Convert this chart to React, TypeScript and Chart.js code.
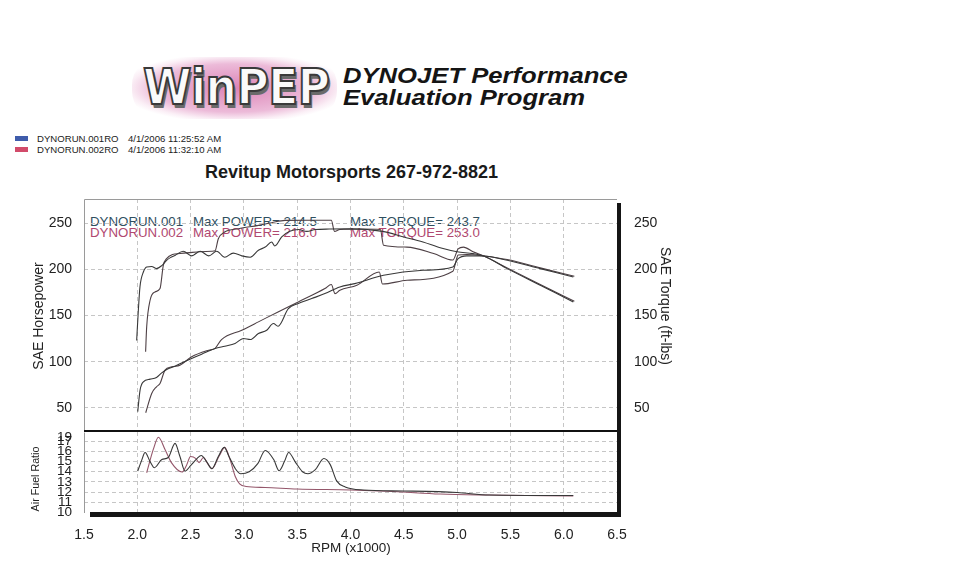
import React, { useEffect, useRef } from "react";
import { Chart, registerables } from "chart.js";

Chart.register(...registerables);

const FONT = "'Liberation Sans', Arial, Helvetica, sans-serif";

// ---------- axis ticks ----------
const rpmTicks = [1.5, 2.0, 2.5, 3.0, 3.5, 4.0, 4.5, 5.0, 5.5, 6.0, 6.5];
const powerTicks = [50, 100, 150, 200, 250];
const afrTicks = [10, 11, 12, 13, 14, 15, 16, 17];
// the scanned sheet prints a squeezed "19" just above "17"
const afrSqueezedTick = 17.37;
const afrSqueezedLabel = "19";

// ---------- DYNORUN.001 ----------
const run1TorqueRpm = [1.994, 2.01, 2.025, 2.057, 2.088, 2.135, 2.18, 2.23, 2.275, 2.31, 2.354, 2.43, 2.51, 2.59, 2.67, 2.745, 2.82, 2.9, 2.98, 3.06, 3.136, 3.2, 3.26, 3.29, 3.355, 3.43, 3.51, 3.59, 3.67, 3.8, 4.0, 4.3, 4.5, 4.68, 4.85, 5.0, 5.15, 5.25, 5.47, 5.78, 6.09];
const run1Torque = [123, 156, 181, 197, 202.5, 203, 200.7, 204, 209.7, 212.6, 215, 219.5, 214.5, 219.5, 214.5, 219.5, 213, 217.5, 214.5, 213, 220.5, 224, 229.5, 225.2, 235, 241, 243, 241, 243, 243.5, 243.7, 241, 235, 229.5, 223, 219, 216.9, 214.4, 200.7, 182.7, 164.7];
const run1PowerRpm = [2.004, 2.026, 2.057, 2.12, 2.18, 2.229, 2.276, 2.354, 2.43, 2.51, 2.604, 2.73, 2.82, 2.917, 2.995, 3.06, 3.136, 3.214, 3.277, 3.32, 3.417, 3.51, 3.636, 3.76, 3.9, 4.04, 4.31, 4.68, 4.96, 5.01, 5.09, 5.25, 5.47, 5.78, 6.09];
const run1Power = [46, 69.3, 78.3, 81.2, 83, 88, 91.6, 95.2, 99.5, 103.5, 108.2, 114.3, 116.8, 119.7, 125.1, 124, 130.5, 134.1, 141.3, 138.4, 157.5, 162.9, 168.3, 173.7, 180.9, 184.5, 193.5, 198.9, 202.5, 211.5, 214.5, 214.4, 209.7, 200.7, 191.7];
const run1AfrRpm = [2.004, 2.04, 2.073, 2.12, 2.16, 2.23, 2.29, 2.354, 2.4, 2.448, 2.5, 2.56, 2.6, 2.65, 2.7, 2.76, 2.815, 2.86, 2.92, 2.97, 3.05, 3.13, 3.2, 3.28, 3.33, 3.38, 3.42, 3.48, 3.55, 3.6, 3.67, 3.75, 3.81, 3.87, 3.95, 4.12, 4.5, 5.0, 5.3, 6.09];
const run1Afr = [14.06, 15.1, 15.9, 15.0, 14.4, 15.2, 15.4, 16.8, 15.5, 14.07, 14.6, 15.3, 15.6, 15.0, 14.3, 15.5, 16.4, 15.5, 14.3, 13.8, 14.0, 14.8, 16.1, 15.2, 14.1, 15.0, 15.9, 15.0, 14.0, 13.8, 14.2, 15.3, 14.7, 13.1, 12.5, 12.2, 12.1, 11.95, 11.7, 11.65];

// ---------- DYNORUN.002 ----------
const run2TorqueRpm = [2.078, 2.088, 2.12, 2.166, 2.213, 2.244, 2.275, 2.33, 2.4, 2.49, 2.59, 2.7, 2.73, 2.76, 2.82, 2.95, 3.136, 3.26, 3.386, 3.6, 3.82, 3.85, 3.9, 4.1, 4.28, 4.31, 4.53, 4.78, 4.96, 5.01, 5.06, 5.15, 5.25, 5.47, 5.78, 6.1];
const run2Torque = [110.7, 137.7, 166.5, 175.5, 179.1, 204.3, 211.5, 216, 217, 218, 219, 219.5, 220, 233, 240.3, 243.9, 247.5, 250.4, 252.9, 253, 253, 241, 243, 243.5, 243, 226, 224, 217, 210, 222, 224, 219, 214.4, 201.5, 183.5, 165.5];
const run2PowerRpm = [2.079, 2.135, 2.18, 2.213, 2.26, 2.323, 2.4, 2.51, 2.67, 2.73, 2.79, 2.98, 3.136, 3.32, 3.51, 3.76, 3.82, 3.855, 3.9, 4.06, 4.27, 4.3, 4.53, 4.96, 5.01, 5.09, 5.25, 5.47, 5.78, 6.1];
const run2Power = [44.8, 65.7, 72.9, 76.5, 90.9, 94.5, 96.3, 105.3, 112.5, 114.5, 124, 134.1, 143.1, 153.9, 164.7, 179.1, 183.5, 173.7, 177.3, 182.7, 197, 184, 188.1, 197.8, 215.5, 216, 214.4, 210.5, 201.5, 192.5];
const run2AfrRpm = [2.088, 2.15, 2.198, 2.26, 2.32, 2.42, 2.46, 2.5, 2.55, 2.58, 2.62, 2.66, 2.7, 2.77, 2.82, 2.87, 2.92, 2.96, 3.02, 3.2, 3.5, 4.0, 4.4, 4.84, 5.3, 6.09];
const run2Afr = [13.9, 16.2, 17.4, 16.2, 14.9, 13.97, 14.6, 15.5, 15.3, 14.9, 15.4, 14.8, 14.3, 15.6, 16.4, 15.2, 13.5, 12.8, 12.55, 12.45, 12.3, 12.2, 12.05, 11.8, 11.7, 11.6];

const zip = (xs: number[], ys: number[]) => xs.map((x, i) => ({ x, y: ys[i] }));

const RUN1_COLOR = "#383838";
const RUN2_COLOR = "#4e4045";
const RUN2_AFR_COLOR = "#94566a";
const GRID = "#c6c6c6";

const lineDs = (label: string, data: any[], color: string, yAxisID: string) => ({
  label,
  data,
  yAxisID,
  borderColor: color,
  borderWidth: 1.1,
  pointRadius: 0,
  tension: 0.35,
  cubicInterpolationMode: "monotone" as const,
  fill: false,
});

const framePlugin = {
  id: "frame",
  afterDraw(chart: any, _args: any, opts: any) {
    const { ctx, chartArea: a } = chart;
    ctx.save();
    ctx.strokeStyle = "#9a9a9a";
    ctx.lineWidth = 1;
    ctx.beginPath();
    ctx.moveTo(a.left + 0.5, a.bottom);
    ctx.lineTo(a.left + 0.5, a.top + 0.5);
    if (opts.kind === "top") ctx.lineTo(a.right, a.top + 0.5);
    ctx.stroke();
    ctx.strokeStyle = "#111";
    ctx.fillStyle = "#151515";
    if (opts.kind === "top") {
      ctx.lineWidth = 2;
      ctx.beginPath();
      ctx.moveTo(a.left, a.bottom - 1);
      ctx.lineTo(a.right + 4, a.bottom - 1);
      ctx.stroke();
      ctx.fillRect(a.right, a.top + 4, 4, a.bottom - a.top - 4);
    } else {
      ctx.fillRect(a.right, a.top, 4, a.bottom - a.top + 4);
      ctx.fillRect(a.left + 6, a.bottom - 1, a.right + 4 - a.left - 6, 5);
    }
    ctx.restore();
  },
};

const tickFont = { family: FONT, size: 14 };

function PowerChart() {
  const ref = useRef<HTMLCanvasElement>(null);
  useEffect(() => {
    const chart = new Chart(ref.current!, {
      type: "line",
      data: {
        datasets: [
          lineDs("001 torque", zip(run1TorqueRpm, run1Torque), RUN1_COLOR, "yT"),
          lineDs("002 torque", zip(run2TorqueRpm, run2Torque), RUN2_COLOR, "yT"),
          lineDs("001 power", zip(run1PowerRpm, run1Power), RUN1_COLOR, "y"),
          lineDs("002 power", zip(run2PowerRpm, run2Power), RUN2_COLOR, "y"),
        ],
      },
      options: {
        animation: false,
        responsive: false,
        events: [],
        layout: { padding: { top: 9, bottom: 8, left: 0, right: 0 } },
        plugins: { legend: { display: false }, tooltip: { enabled: false }, frame: { kind: "top" } } as any,
        scales: {
          x: {
            type: "linear",
            min: 1.5,
            max: 6.5,
            afterBuildTicks: (s: any) => { s.ticks = rpmTicks.map((v) => ({ value: v })); },
            afterFit: (s: any) => { s.height = 0; s.paddingLeft = 0; s.paddingRight = 0; },
            ticks: { display: false },
            grid: { color: (c: any) => (c.tick && (c.tick.value === 1.5 || c.tick.value === 6.5) ? "rgba(0,0,0,0)" : GRID), drawTicks: false },
            border: { display: false, dash: [4, 3] },
          },
          y: {
            type: "linear",
            position: "left",
            min: 24,
            max: 276,
            afterBuildTicks: (s: any) => { s.ticks = powerTicks.map((v) => ({ value: v })); },
            afterFit: (s: any) => { s.width = 84; s.paddingTop = 0; s.paddingBottom = 0; },
            ticks: { font: tickFont, color: "#222", padding: 12 },
            grid: { color: GRID, drawTicks: false },
            border: { display: false, dash: [4, 3] },
          },
          yT: {
            type: "linear",
            position: "right",
            min: 24,
            max: 276,
            afterBuildTicks: (s: any) => { s.ticks = powerTicks.map((v) => ({ value: v })); },
            afterFit: (s: any) => { s.width = 83; s.paddingTop = 0; s.paddingBottom = 0; },
            ticks: { font: tickFont, color: "#222", padding: 17 },
            grid: { display: false, drawTicks: false },
            border: { display: false },
          },
        },
      },
      plugins: [framePlugin],
    } as any);
    return () => chart.destroy();
  }, []);
  return <canvas ref={ref} width={700} height={250} style={{ position: "absolute", left: 0, top: 190 }} />;
}

function AfrChart() {
  const ref = useRef<HTMLCanvasElement>(null);
  useEffect(() => {
    const chart = new Chart(ref.current!, {
      type: "line",
      data: {
        datasets: [
          lineDs("001 AFR", zip(run1AfrRpm, run1Afr), RUN1_COLOR, "y"),
          lineDs("002 AFR", zip(run2AfrRpm, run2Afr), RUN2_AFR_COLOR, "y"),
        ],
      },
      options: {
        animation: false,
        responsive: false,
        events: [],
        layout: { padding: { top: 8, bottom: 0, left: 0, right: 83 } },
        plugins: { legend: { display: false }, tooltip: { enabled: false }, frame: { kind: "bottom" } } as any,
        scales: {
          x: {
            type: "linear",
            min: 1.5,
            max: 6.5,
            afterBuildTicks: (s: any) => { s.ticks = rpmTicks.map((v) => ({ value: v })); },
            afterFit: (s: any) => { s.height = 47; s.paddingLeft = 0; s.paddingRight = 0; },
            ticks: { font: tickFont, color: "#222", padding: 14, maxRotation: 0, autoSkip: false, callback: (v: any) => Number(v).toFixed(1) },
            grid: { color: (c: any) => (c.tick && (c.tick.value === 1.5 || c.tick.value === 6.5) ? "rgba(0,0,0,0)" : GRID), drawTicks: false },
            border: { display: false, dash: [4, 3] },
          },
          y: {
            type: "linear",
            position: "left",
            min: 9.93,
            max: 17.92,
            afterBuildTicks: (s: any) => { s.ticks = [...afrTicks, afrSqueezedTick].map((v) => ({ value: v })); },
            afterFit: (s: any) => { s.width = 84; s.paddingTop = 0; s.paddingBottom = 0; },
            ticks: {
              font: { family: FONT, size: 13.5 },
              color: "#222",
              padding: 12,
              autoSkip: false,
              callback: (v: any) => (v === afrSqueezedTick ? afrSqueezedLabel : String(v)),
            },
            grid: { color: (c: any) => (c.tick && (c.tick.value === 10 || c.tick.value === afrSqueezedTick) ? "rgba(0,0,0,0)" : GRID), drawTicks: false },
            border: { display: false, dash: [4, 3] },
          },
        },
      },
      plugins: [framePlugin],
    } as any);
    return () => chart.destroy();
  }, []);
  return <canvas ref={ref} width={700} height={136} style={{ position: "absolute", left: 0, top: 424 }} />;
}

const abs = (s: React.CSSProperties): React.CSSProperties => ({ position: "absolute", whiteSpace: "nowrap", lineHeight: 1, fontFamily: FONT, ...s });

export default function App() {
  return (
    <div style={{ position: "absolute", left: 0, top: 0, width: 960, height: 583, background: "#fff", overflow: "hidden", fontFamily: FONT }}>
      {/* WinPEP logo */}
      <div style={abs({ left: 132, top: 57, width: 205, height: 62, borderRadius: 28, background: "radial-gradient(ellipse at center, rgba(214,110,170,0.85) 0%, rgba(226,150,196,0.65) 55%, rgba(240,200,224,0.3) 72%, rgba(255,255,255,0) 80%)" })} />
      <div style={abs({ left: 143, top: 63, fontFamily: "'DejaVu Sans', sans-serif", fontWeight: 900, fontSize: 44, color: "#fafafa", WebkitTextStroke: "1.8px #3a3a3a", textShadow: "2px 3px 0 #6a6a6a", letterSpacing: -0.5, transform: "scaleY(1.12)", transformOrigin: "left top" })}>WinPEP</div>
      <div style={abs({ left: 343, top: 65, fontSize: 22, fontWeight: 700, fontStyle: "italic", color: "#151515", transform: "scaleX(1.165)", transformOrigin: "left top" })}>DYNOJET Performance</div>
      <div style={abs({ left: 343, top: 87, fontSize: 22, fontWeight: 700, fontStyle: "italic", color: "#151515", transform: "scaleX(1.165)", transformOrigin: "left top" })}>Evaluation Program</div>

      {/* run legend */}
      <div style={abs({ left: 15, top: 136, width: 13, height: 5, background: "#3f5cab" })} />
      <div style={abs({ left: 15, top: 147, width: 13, height: 5, background: "#d24b6a" })} />
      <div style={abs({ left: 37, top: 134, fontSize: 9.6, color: "#222" })}>DYNORUN.001RO</div>
      <div style={abs({ left: 128, top: 134, fontSize: 9.6, color: "#222" })}>4/1/2006 11:25:52 AM</div>
      <div style={abs({ left: 37, top: 145, fontSize: 9.6, color: "#222" })}>DYNORUN.002RO</div>
      <div style={abs({ left: 128, top: 145, fontSize: 9.6, color: "#222" })}>4/1/2006 11:32:10 AM</div>

      {/* title */}
      <div style={abs({ left: 205, top: 163, fontSize: 18, fontWeight: 700, color: "#1a1a1a" })}>Revitup Motorsports 267-972-8821</div>

      {/* in-plot summary text */}
      <div style={abs({ left: 90, top: 214.5, fontSize: 13.3, color: "#2f4f5f" })}>DYNORUN.001</div>
      <div style={abs({ left: 193, top: 214.5, fontSize: 13.3, color: "#2f4f5f" })}>Max POWER= 214.5</div>
      <div style={abs({ left: 350, top: 214.5, fontSize: 13.3, color: "#2f4f5f" })}>Max TORQUE= 243.7</div>
      <div style={abs({ left: 90, top: 225.5, fontSize: 13.3, color: "#b04870" })}>DYNORUN.002</div>
      <div style={abs({ left: 193, top: 225.5, fontSize: 13.3, color: "#b04870" })}>Max POWER= 216.0</div>
      <div style={abs({ left: 350, top: 225.5, fontSize: 13.3, color: "#b04870" })}>Max TORQUE= 253.0</div>

      <PowerChart />
      <AfrChart />

      {/* axis titles */}
      <div style={abs({ left: 38, top: 316, fontSize: 14, color: "#222", transform: "translate(-50%,-50%) rotate(-90deg)" })}>SAE Horsepower</div>
      <div style={abs({ left: 666, top: 306, fontSize: 14, color: "#222", transform: "translate(-50%,-50%) rotate(90deg)" })}>SAE Torque (ft-lbs)</div>
      <div style={abs({ left: 35, top: 479, fontSize: 10.7, color: "#222", transform: "translate(-50%,-50%) rotate(-90deg)" })}>Air Fuel Ratio</div>
      <div style={abs({ left: 351, top: 548, fontSize: 13.5, color: "#222", transform: "translate(-50%,-50%)" })}>RPM (x1000)</div>
    </div>
  );
}
